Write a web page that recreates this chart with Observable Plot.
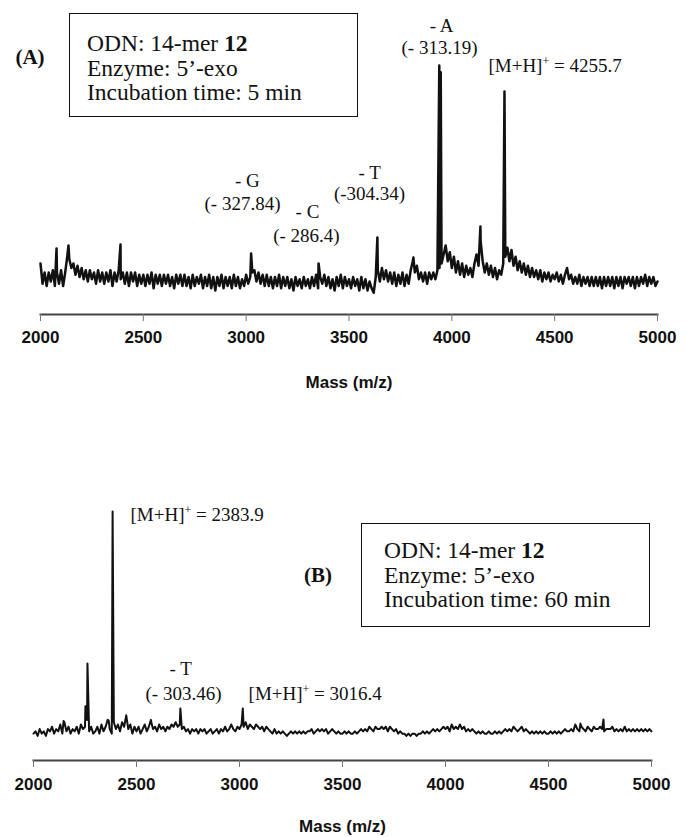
<!DOCTYPE html>
<html><head><meta charset="utf-8">
<script src="https://cdn.jsdelivr.net/npm/d3@7"></script>
<script src="https://cdn.jsdelivr.net/npm/@observablehq/plot@0.6"></script>
<style>
body{margin:0;background:#fff;}
#wrap{position:relative;width:687px;height:837px;overflow:hidden;font-family:"Liberation Serif","Times New Roman",serif;color:#111;}
#wrap svg{position:absolute;left:0;}
.box{position:absolute;border:1.5px solid #111;box-sizing:border-box;width:289px;height:104px;font-size:23.5px;line-height:24.5px;white-space:nowrap;}
.tag{position:absolute;font-weight:bold;font-size:21px;transform:translate(-50%,-50%);white-space:nowrap;}
</style></head><body><div id="wrap"></div>
<script>
// sampled spectrum grid (m/z) : start and step of the baseline samples
const massStart = 2000, massStep = 10;
const tickValues = [2000, 2500, 3000, 3500, 4000, 4500, 5000];

// Panel A baseline intensities, one value per 10 Da from 2000 to 5000
const baselineA = [
  12, 3, 8, 2, 8, 4, 9, 2, 8, 3,
  9, 2, 8, 15, 14, 10, 12, 7, 11, 6,
  10, 5, 9, 4, 9, 5, 8, 3, 9, 4,
  8, 3, 8, 4, 9, 2, 8, 4, 9, 5,
  8, 3, 8, 2, 8, 4, 8, 2, 7, 3,
  7, 2, 7, 3, 8, 1, 7, 3, 7, 2,
  7, 3, 7, 2, 6, 1, 7, 3, 7, 2,
  7, 2, 6, 1, 7, 2, 6, 3, 7, 1,
  6, 2, 7, 1, 6, 0, 6, 2, 7, 1,
  6, 2, 6, 1, 7, 2, 6, 1, 5, 2,
  7, 3, 6, 8, 9, 4, 8, 3, 7, 2,
  7, 2, 6, 1, 6, 2, 7, 1, 6, 2,
  6, 1, 5, 0, 6, 2, 5, 1, 6, 2,
  5, 1, 6, 2, 7, 1, 6, 3, 7, 2,
  6, 1, 5, 0, 6, 2, 7, 1, 6, 2,
  5, 1, 6, 2, 5, 0, 6, 1, 5, 0,
  4, 1, -1, 6, 9, 4, 10, 5, 9, 4,
  8, 3, 8, 2, 7, 3, 8, 2, 7, 3,
  9, 13, 8, 11, 5, 8, 4, 8, 3, 8,
  5, 8, 5, 9, 10, 12, 16, 20, 13, 17,
  10, 15, 8, 13, 7, 12, 6, 11, 7, 10,
  6, 12, 16, 11, 22, 13, 8, 12, 7, 11,
  6, 10, 5, 9, 7, 12, 15, 19, 13, 18,
  11, 15, 9, 13, 8, 12, 7, 11, 6, 10,
  6, 9, 5, 9, 4, 8, 5, 8, 4, 7,
  5, 8, 4, 7, 3, 7, 10, 5, 7, 3,
  6, 3, 7, 2, 6, 3, 6, 2, 6, 2,
  6, 2, 6, 1, 6, 2, 6, 2, 6, 1,
  6, 2, 6, 1, 6, 3, 6, 2, 6, 1,
  6, 2, 6, 3, 7, 2, 6, 3, 6, 2,
  4
];
// Panel A peaks [m/z, intensity]
const peaksA = [[2078, 18.7], [2136, 20], [2389, 20.4], [3024, 16.4], [3352, 12], [3638, 23.6],
  [3813, 14.7], [3939, 100], [3946, 97], [4139, 28.4], [4256, 88.4]];

// Panel B baseline intensities, one value per 10 Da from 2000 to 5000
const baselineB = [
  3, 4, 2, 5, 3, 4, 2, 5, 4, 6,
  3, 5, 4, 7, 3, 8, 4, 6, 3, 5,
  4, 6, 3, 7, 5, 6, 9, 4, 6, 3,
  4, 6, 3, 7, 4, 6, 9, 5, 3, 8,
  5, 7, 4, 8, 6, 11, 5, 7, 3, 6,
  4, 6, 3, 5, 7, 4, 6, 9, 5, 6,
  4, 7, 5, 6, 4, 6, 5, 7, 6, 8,
  6, 7, 5, 6, 4, 5, 3, 5, 4, 5,
  3, 5, 4, 5, 3, 4, 5, 3, 4, 5,
  3, 5, 4, 6, 4, 5, 7, 5, 4, 6,
  5, 7, 6, 8, 5, 7, 6, 5, 7, 6,
  5, 6, 4, 6, 5, 4, 3, 5, 3, 4,
  3, 4, 3, 2, 3, 4, 3, 4, 3, 4,
  3, 4, 3, 4, 4, 5, 3, 4, 5, 4,
  5, 4, 5, 3, 4, 5, 4, 3, 4, 3,
  3, 4, 3, 4, 3, 3, 4, 3, 4, 5,
  4, 5, 4, 6, 5, 4, 6, 5, 5, 6,
  5, 6, 4, 6, 5, 4, 5, 3, 4, 3,
  3, 2, 3, 2, 3, 3, 2, 3, 3, 4,
  3, 4, 3, 4, 5, 4, 5, 4, 5, 6,
  5, 6, 4, 7, 5, 6, 5, 7, 5, 6,
  4, 5, 4, 5, 4, 3, 4, 3, 4, 3,
  3, 4, 3, 3, 4, 3, 4, 3, 4, 5,
  4, 5, 4, 6, 5, 4, 5, 6, 4, 5,
  4, 3, 4, 3, 4, 3, 4, 3, 4, 3,
  3, 4, 3, 4, 3, 4, 3, 4, 5, 4,
  4, 5, 4, 7, 5, 4, 6, 5, 4, 6,
  5, 4, 6, 5, 5, 6, 5, 4, 5, 5,
  5, 6, 4, 5, 4, 5, 4, 6, 4, 5,
  4, 5, 4, 5, 4, 5, 4, 5, 4, 5,
  4
];
const peaksB = [[2146, 8.5], [2252, 15], [2262, 33.6], [2365, 8.7], [2384, 100], [2451, 10.5],
  [2572, 8], [2713, 14], [3016, 14], [4655, 7.4], [4767, 9.2]];

// peak annotations: text, m/z position, intensity level, anchor
const labelsA = [
  {label: "- A", mass: 3950, level: 117.8, anchor: "middle"},
  {label: "(- 313.19)", mass: 3940, level: 107.6, anchor: "middle"},
  {label: "[M+H]+ = 4255.7", mass: 4178, level: 100, anchor: "start"},
  {label: "- G", mass: 3006, level: 48.9, anchor: "middle"},
  {label: "(- 327.84)", mass: 2982, level: 38.7, anchor: "middle"},
  {label: "- C", mass: 3298, level: 35.1, anchor: "middle"},
  {label: "(- 286.4)", mass: 3293, level: 24.4, anchor: "middle"},
  {label: "- T", mass: 3600, level: 52.4, anchor: "middle"},
  {label: "(-304.34)", mass: 3600, level: 43.1, anchor: "middle"}
];
const labelsB = [
  {label: "[M+H]+ = 2383.9", mass: 2471, level: 98.3, anchor: "start"},
  {label: "- T", mass: 2714, level: 31.4, anchor: "middle"},
  {label: "(- 303.46)", mass: 2728, level: 20.5, anchor: "middle"},
  {label: "[M+H]+ = 3016.4", mass: 3044, level: 20.5, anchor: "start"}
];

const boxLinesA = ["ODN: 14-mer <b>12</b>", "Enzyme: 5’-exo", "Incubation time: 5 min"];
const boxLinesB = ["ODN: 14-mer <b>12</b>", "Enzyme: 5’-exo", "Incubation time: 60 min"];

function spectrum(baseline, peaks) {
  const pts = baseline.map((v, i) => ({mass: massStart + i * massStep, intensity: v}));
  peaks.forEach(([m, v]) => pts.push({mass: m, intensity: v}));
  return pts.sort((a, b) => a.mass - b.mass);
}

function panel(o) {
  const labelFont = {fontFamily: "Liberation Serif, Times New Roman, serif", fontSize: 19, fontWeight: "normal", fill: "#111", lineAnchor: "middle"};
  const svg = Plot.plot({
    width: 687, height: o.height,
    marginLeft: o.marginLeft, marginRight: o.marginRight, marginTop: 0, marginBottom: o.marginBottom,
    x: {domain: [2000, 5000]},
    y: {domain: [0, 100], range: o.yRange, axis: null},
    style: {fontFamily: "Liberation Sans, Arial, sans-serif", fontSize: "17px", fontWeight: "bold", color: "#111", background: "transparent", overflow: "visible"},
    marks: [
      Plot.frame({anchor: "bottom", stroke: "#444", strokeWidth: 2}),
      Plot.axisX({ticks: tickValues, tickSize: 7, tickPadding: o.tickPadding, tickFormat: d => String(d),
        stroke: "#777", fill: "#111", label: null, fontSize: 17, fontWeight: "bold"}),
      Plot.text(["Mass (m/z)"], {frameAnchor: "bottom", text: d => d, dy: o.labelDy, lineAnchor: "middle", fontSize: 17, fontWeight: "bold", fill: "#111"}),
      Plot.line(spectrum(o.baseline, o.peaks), {x: "mass", y: "intensity", stroke: "#111", strokeWidth: o.strokeWidth}),
      Plot.text(o.labels.filter(d => d.anchor === "middle"), {x: "mass", y: "level", text: "label", textAnchor: "middle", ...labelFont}),
      Plot.text(o.labels.filter(d => d.anchor === "start"), {x: "mass", y: "level", text: "label", textAnchor: "start", ...labelFont})
    ]
  });
  svg.querySelectorAll("text").forEach(t => {
    const s = t.textContent;
    if (s.startsWith("[M+H]+")) {
      t.textContent = "";
      const ns = "http://www.w3.org/2000/svg";
      const a = document.createElementNS(ns, "tspan"); a.textContent = "[M+H]";
      const b = document.createElementNS(ns, "tspan"); b.textContent = "+"; b.setAttribute("dy", "-7"); b.setAttribute("font-size", "12");
      const c = document.createElementNS(ns, "tspan"); c.textContent = s.slice(6); c.setAttribute("dy", "7");
      t.append(a, b, c);
    }
  });
  svg.style.top = o.top + "px";
  return svg;
}

const wrap = document.getElementById("wrap");
wrap.append(panel({top: 0, height: 400, marginLeft: 40, marginRight: 30, marginBottom: 86, yRange: [290, 65],
  tickPadding: 9, labelDy: 68, baseline: baselineA, peaks: peaksA, labels: labelsA, strokeWidth: 2.5}));
wrap.append(panel({top: 400, height: 437, marginLeft: 33, marginRight: 36, marginBottom: 77, yRange: [340, 111],
  tickPadding: 10, labelDy: 66, baseline: baselineB, peaks: peaksB, labels: labelsB, strokeWidth: 2}));

function box(lines, left, top, padTop, padLeft) {
  const d = document.createElement("div");
  d.className = "box";
  d.style.left = left + "px"; d.style.top = top + "px";
  d.style.paddingTop = padTop + "px"; d.style.paddingLeft = padLeft + "px";
  d.innerHTML = lines.join("<br>");
  wrap.append(d);
}
function tag(text, x, y) {
  const d = document.createElement("div");
  d.className = "tag"; d.textContent = text;
  d.style.left = x + "px"; d.style.top = y + "px";
  wrap.append(d);
}
box(boxLinesA, 69, 13, 17, 17);
box(boxLinesB, 361, 523, 14, 22);
tag("(A)", 30, 57);
tag("(B)", 318, 575);
</script></body></html>
